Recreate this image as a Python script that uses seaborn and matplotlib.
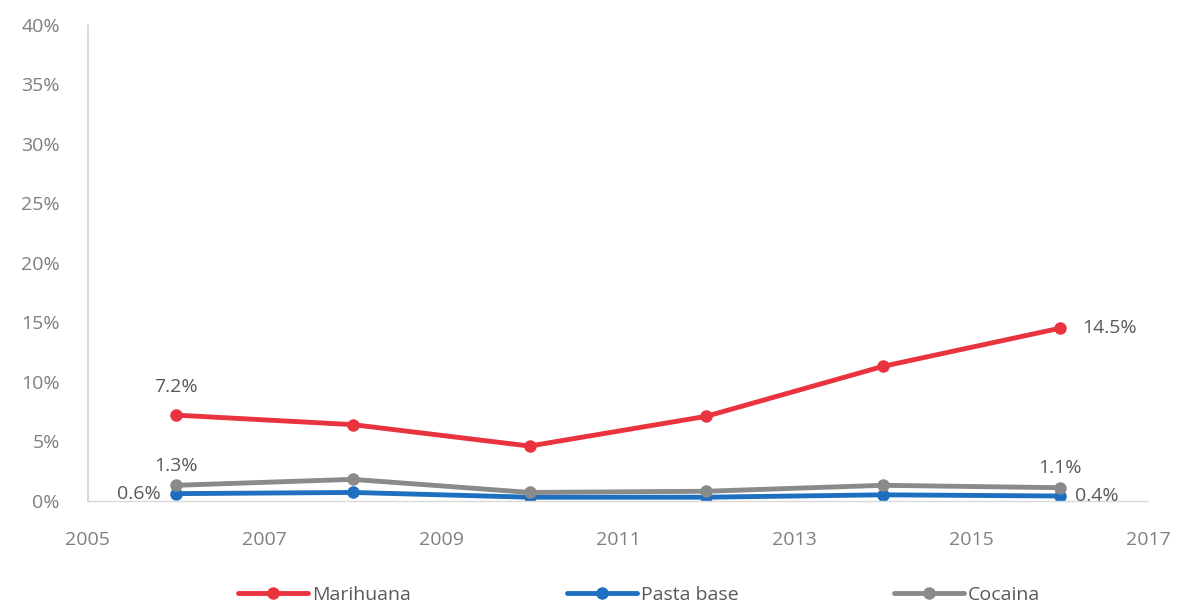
import matplotlib
matplotlib.use("Agg")
import matplotlib.pyplot as plt
import seaborn as sns
import pandas as pd
from matplotlib.ticker import FuncFormatter, MultipleLocator

years = [2006, 2008, 2010, 2012, 2014, 2016]
marihuana = [7.2, 6.4, 4.6, 7.1, 11.3, 14.5]
pasta_base = [0.6, 0.7, 0.3, 0.3, 0.5, 0.4]
cocaina = [1.3, 1.8, 0.7, 0.8, 1.3, 1.1]
series_names = ["Marihuana", "Pasta base", "Cocaina"]
colors = ["#E9333F", "#1F6FC0", "#8A8A8A"]
x_ticks = [2005, 2007, 2009, 2011, 2013, 2015, 2017]

df = pd.DataFrame({
    "year": years * 3,
    "value": marihuana + pasta_base + cocaina,
    "serie": [series_names[0]] * 6 + [series_names[1]] * 6 + [series_names[2]] * 6,
})

sns.set_theme(style="white")
plt.rcParams["font.family"] = ["Open Sans", "DejaVu Sans"]

fig = plt.figure(figsize=(11.86, 6.07), dpi=100)
ax = fig.add_axes([0.074, 0.175, 0.894, 0.784])

sns.lineplot(data=df, x="year", y="value", hue="serie", hue_order=series_names,
             palette=colors, marker="o", markersize=9, markeredgewidth=0,
             linewidth=3.5, ax=ax, legend=True)

ax.set_xlim(2005, 2017)
ax.set_ylim(0, 40)
ax.set_xticks(x_ticks)
ax.yaxis.set_major_locator(MultipleLocator(5))
ax.yaxis.set_major_formatter(FuncFormatter(lambda v, p: f"{v:.0f}%"))
ax.set_xlabel("")
ax.set_ylabel("")
ax.tick_params(axis="both", colors="#7F7F7F", labelsize=14, length=0)
ax.tick_params(axis="x", pad=22)
ax.tick_params(axis="y", pad=20)
for s in ["top", "right"]:
    ax.spines[s].set_visible(False)
ax.spines["left"].set_color("#D0D0D0")
ax.spines["bottom"].set_color("#D9D9D9")
ax.spines["left"].set_linewidth(1.2)
ax.spines["bottom"].set_linewidth(1.0)

lab_kw = dict(fontsize=14, color="#595959")
ax.text(years[0], marihuana[0] + 1.6, f"{marihuana[0]:.1f}%", ha="center", va="bottom", **lab_kw)
ax.text(years[-1] + 0.25, marihuana[-1], f"{marihuana[-1]:.1f}%", ha="left", va="center", **lab_kw)
ax.text(years[0], cocaina[0] + 0.9, f"{cocaina[0]:.1f}%", ha="center", va="bottom", **lab_kw)
ax.text(years[-1], cocaina[-1] + 0.9, f"{cocaina[-1]:.1f}%", ha="center", va="bottom", **lab_kw)
ax.text(years[0] - 0.17, pasta_base[0], f"{pasta_base[0]:.1f}%", ha="right", va="center", **lab_kw)
ax.text(years[-1] + 0.17, pasta_base[-1], f"{pasta_base[-1]:.1f}%", ha="left", va="center", **lab_kw)

handles, labels = ax.get_legend_handles_labels()
ax.legend(handles, labels, loc="center", bbox_to_anchor=(0.52, -0.197), ncol=3,
          frameon=False, fontsize=14, labelcolor="#595959", columnspacing=8,
          handlelength=3.6, handletextpad=0.2)

fig.savefig("out.png", dpi=100)
